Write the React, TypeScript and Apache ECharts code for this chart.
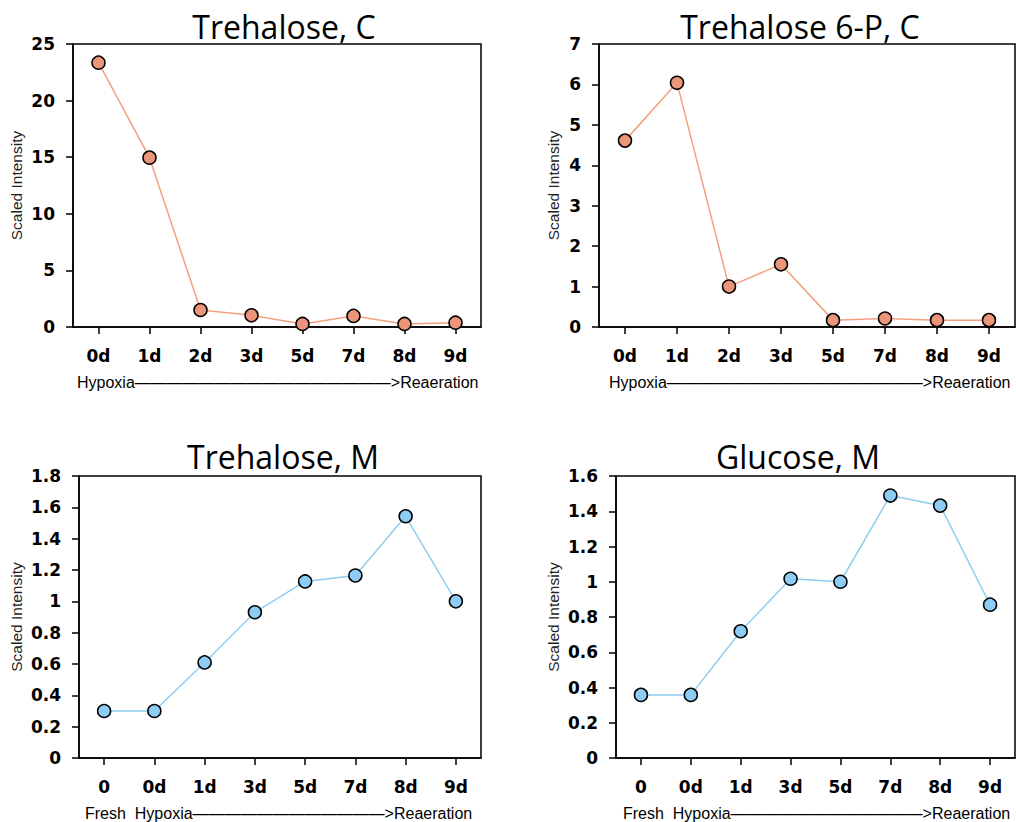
import React, { useEffect, useRef } from "react";
import * as echarts from "echarts";

const catsC = ["0d", "1d", "2d", "3d", "5d", "7d", "8d", "9d"];
const catsM = ["0", "0d", "1d", "3d", "5d", "7d", "8d", "9d"];

const trehaloseC = [23.35, 14.96, 1.5, 1.03, 0.27, 0.98, 0.27, 0.38];
const trehalose6PC = [4.61, 6.04, 1.0, 1.55, 0.17, 0.21, 0.17, 0.17];
const trehaloseM = [0.3, 0.3, 0.61, 0.93, 1.127, 1.165, 1.543, 1.0];
const glucoseM = [0.358, 0.358, 0.719, 1.017, 1.0, 1.489, 1.432, 0.87];

const titles = ["Trehalose, C", "Trehalose 6-P, C", "Trehalose, M", "Glucose, M"];
const yMax = [25, 7, 1.8, 1.6];
const yStep = [5, 1, 0.2, 0.2];

const ORANGE_FILL = "#EC957A";
const ORANGE_LINE = "#F2A080";
const BLUE_FILL = "#8DCDF5";
const BLUE_LINE = "#8FCDF2";

export default function App() {
  const ref = useRef<HTMLDivElement>(null);
  useEffect(() => {
    if (!ref.current) return;
    const chart = echarts.init(ref.current, null, { renderer: "svg" });

    const grids = [
      { left: 73, top: 44, width: 408, height: 283 },
      { left: 599, top: 44, width: 416, height: 283 },
      { left: 79, top: 476, width: 402, height: 282 },
      { left: 616, top: 476, width: 399, height: 282 },
    ];
    const nameGaps = [49, 38, 55, 55];
    const catsList = [catsC, catsC, catsM, catsM];
    const dataList = [trehaloseC, trehalose6PC, trehaloseM, glucoseM];
    const fills = [ORANGE_FILL, ORANGE_FILL, BLUE_FILL, BLUE_FILL];
    const lines = [ORANGE_LINE, ORANGE_LINE, BLUE_LINE, BLUE_LINE];

    const tickFont = {
      fontFamily: "DejaVu Sans, sans-serif",
      fontWeight: "bold" as const,
      fontSize: 17,
      color: "#000",
    };

    const subFont = "16px 'Liberation Sans', Arial, sans-serif";

    const option: any = {
      animation: false,
      backgroundColor: "#fff",
      grid: grids.map((g) => ({
        ...g,
        show: true,
        borderColor: "#000",
        borderWidth: 1.5,
        backgroundColor: "transparent",
      })),
      xAxis: grids.map((_, i) => ({
        type: "category",
        gridIndex: i,
        data: catsList[i],
        boundaryGap: true,
        axisLine: { show: true, lineStyle: { color: "#000", width: 1.5 } },
        axisTick: { show: true, alignWithLabel: true, length: 7, lineStyle: { color: "#000", width: 1.5 } },
        axisLabel: { ...tickFont, margin: 20 },
        splitLine: { show: false },
      })),
      yAxis: grids.map((_, i) => ({
        type: "value",
        gridIndex: i,
        min: 0,
        max: yMax[i],
        interval: yStep[i],
        name: "Scaled Intensity",
        nameLocation: "middle",
        nameGap: nameGaps[i],
        nameTextStyle: {
          fontFamily: "Liberation Sans, Arial, sans-serif",
          fontSize: 15.5,
          color: "#222",
        },
        axisLine: { show: true, lineStyle: { color: "#000", width: 1.5 } },
        axisTick: { show: true, length: 7, lineStyle: { color: "#000", width: 1.5 } },
        axisLabel: { ...tickFont, margin: 18 },
        splitLine: { show: false },
      })),
      series: grids.map((_, i) => ({
        type: "line",
        xAxisIndex: i,
        yAxisIndex: i,
        data: dataList[i],
        symbol: "circle",
        symbolSize: 13,
        lineStyle: { color: lines[i], width: 1.5 },
        itemStyle: { color: fills[i], borderColor: "#000", borderWidth: 1.5 },
      })),
      graphic: [
        ...[
          [284, 26],
          [800, 26],
          [283, 456],
          [798, 456],
        ].map(([x, y], i) => ({
          type: "text",
          x,
          y,
          style: {
            text: titles[i],
            font: "32px 'Open Sans', 'Noto Sans', sans-serif",
            fill: "#000",
            textAlign: "center",
            textVerticalAlign: "middle",
          },
        })),
        {
          type: "text",
          x: 77,
          y: 382,
          style: {
            text: "Hypoxia" + "—".repeat(16) + ">Reaeration",
            font: subFont,
            fill: "#000",
            textVerticalAlign: "middle",
          },
        },
        {
          type: "text",
          x: 609,
          y: 382,
          style: {
            text: "Hypoxia" + "—".repeat(16) + ">Reaeration",
            font: subFont,
            fill: "#000",
            textVerticalAlign: "middle",
          },
        },
        {
          type: "text",
          x: 85,
          y: 813,
          style: {
            text: "Fresh  Hypoxia" + "—".repeat(12) + ">Reaeration",
            font: subFont,
            fill: "#000",
            textVerticalAlign: "middle",
          },
        },
        {
          type: "text",
          x: 623,
          y: 813,
          style: {
            text: "Fresh  Hypoxia" + "—".repeat(12) + ">Reaeration",
            font: subFont,
            fill: "#000",
            textVerticalAlign: "middle",
          },
        },
      ],
    };
    chart.setOption(option);
    return () => chart.dispose();
  }, []);
  return (
    <div
      ref={ref}
      style={{ position: "absolute", left: 0, top: 0, width: 1016, height: 822 }}
    />
  );
}
